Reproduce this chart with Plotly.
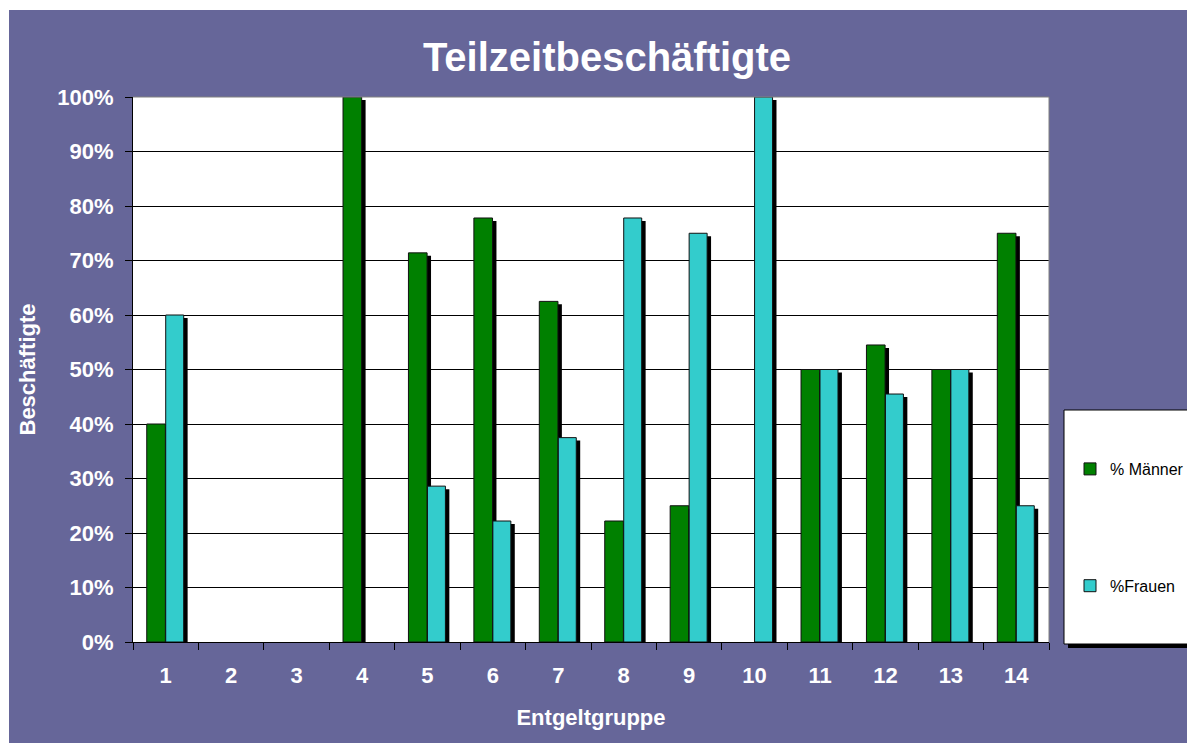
import plotly.graph_objects as go

categories = [str(i) for i in range(1, 15)]
maenner = [40, None, None, 100, 71.4, 77.8, 62.5, 22.2, 25, None, 50, 54.5, 50, 75]
frauen = [60, None, None, None, 28.6, 22.2, 37.5, 77.8, 75, 100, 50, 45.5, 50, 25]
y_ticks = list(range(0, 101, 10))
y_tick_labels = [f"{v}%" for v in y_ticks]

GREEN = "#008000"
CYAN = "#33CCCC"
PURPLE = "#666699"
FONT = "Liberation Sans, Arial, sans-serif"

SHADOW_DX = 0.06
SHADOW_DY = 0.55

def shadow(vals):
    return [None if v is None else v - SHADOW_DY for v in vals]

fig = go.Figure()
# shadows
fig.add_trace(go.Bar(x=categories, y=shadow(maenner), offset=-0.29 + SHADOW_DX, width=0.285,
                     marker=dict(color="black", line=dict(width=0)), showlegend=False, hoverinfo="skip"))
fig.add_trace(go.Bar(x=categories, y=shadow(frauen), offset=0.0 + SHADOW_DX, width=0.275,
                     marker=dict(color="black", line=dict(width=0)), showlegend=False, hoverinfo="skip"))
# bars
fig.add_trace(go.Bar(x=categories, y=maenner, name="% Männer", offset=-0.29, width=0.285,
                     legendgroup="m",
                     marker=dict(color=GREEN, line=dict(color="#111111", width=1))))
fig.add_trace(go.Bar(x=categories, y=frauen, name="%Frauen", offset=0.0, width=0.275,
                     legendgroup="f",
                     marker=dict(color=CYAN, line=dict(color="#111111", width=1))))

# figure placed at page (8, 8)
W, H = 1187, 735
L, R, T, B = 125, 146, 89, 101
pw, ph = W - L - R, H - T - B

def px_x(x):
    return (x - L) / pw

def px_y(y):
    return (H - B - y) / ph

shapes = [
    # thin white edges
    dict(type="rect", xref="paper", yref="paper", x0=px_x(-5), x1=px_x(W + 5), y0=px_y(2), y1=px_y(-5),
         fillcolor="white", line=dict(width=0), layer="below"),
    dict(type="rect", xref="paper", yref="paper", x0=px_x(-5), x1=px_x(1), y0=px_y(H + 5), y1=px_y(-5),
         fillcolor="white", line=dict(width=0), layer="below"),
    # plot border top/right (gray)
    dict(type="line", xref="paper", yref="paper", x0=0, x1=1, y0=1, y1=1,
         line=dict(color="#808080", width=1)),
    dict(type="line", xref="paper", yref="paper", x0=1, x1=1, y0=0, y1=1,
         line=dict(color="#808080", width=1)),
    # legend box shadow and box
    dict(type="rect", xref="paper", yref="paper", x0=px_x(1060), x1=px_x(W + 10), y0=px_y(640), y1=px_y(406),
         fillcolor="black", line=dict(width=0), layer="below"),
    dict(type="rect", xref="paper", yref="paper", x0=px_x(1056), x1=px_x(W + 10), y0=px_y(636), y1=px_y(402),
         fillcolor="white", line=dict(color="black", width=1), layer="below"),
]

fig.update_layout(
    width=W, height=H,
    margin=dict(l=L, r=R, t=T, b=B, autoexpand=False),
    paper_bgcolor=PURPLE,
    plot_bgcolor="white",
    barmode="overlay",
    title=dict(text="Teilzeitbeschäftigte", x=599 / W, xanchor="center", xref="container",
               y=1 - 49 / H, yanchor="middle",
               font=dict(family=FONT, size=40, color="white", weight="bold")),
    xaxis=dict(
        type="category", tickson="boundaries", ticks="outside", ticklen=7, tickcolor="black",
        showline=True, linecolor="black", linewidth=1, showgrid=False,
        tickfont=dict(family=FONT, size=22, color="white", weight="bold"),
        ticklabelstandoff=14,
        title=dict(text="Entgeltgruppe", font=dict(family=FONT, size=22, color="white", weight="bold"),
                   standoff=22),
        automargin=False,
    ),
    yaxis=dict(
        range=[0, 100], tickvals=y_ticks, ticktext=y_tick_labels, ticks="outside", ticklen=7, tickcolor="black",
        showline=True, linecolor="black", linewidth=1, showgrid=True, gridcolor="black", gridwidth=1,
        zeroline=False,
        tickfont=dict(family=FONT, size=22, color="white", weight="bold"),
        ticklabelstandoff=7,
        title=dict(text="Beschäftigte", font=dict(family=FONT, size=22, color="white", weight="bold")),
        automargin=False,
    ),
    legend=dict(
        x=px_x(1062), y=px_y(444), xanchor="left", yanchor="top",
        bgcolor="rgba(0,0,0,0)", borderwidth=0,
        font=dict(family=FONT, size=16, color="black"),
        traceorder="grouped", tracegroupgap=93,
    ),
    shapes=shapes,
    showlegend=True,
)

fig.write_html("out.html")
